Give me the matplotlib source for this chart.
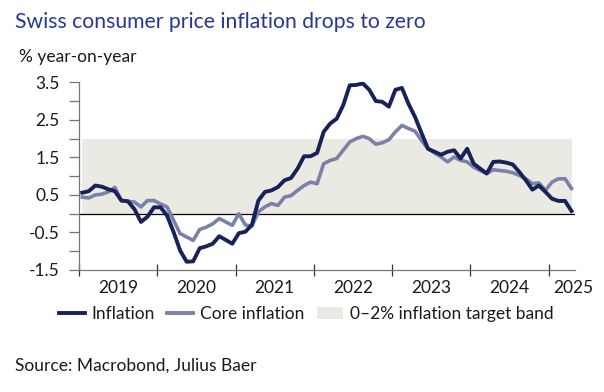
import matplotlib
matplotlib.use("Agg")
import matplotlib.pyplot as plt
from matplotlib.lines import Line2D
from matplotlib.patches import Patch

plt.rcParams['font.family'] = ['Lato', 'DejaVu Sans']

# Monthly data, Jan 2019 - Apr 2025 (% year-on-year)
inflation = [
    0.56, 0.60, 0.75, 0.72, 0.65, 0.60, 0.35, 0.33, 0.12, -0.22, -0.08, 0.17,
    0.17, -0.05, -0.49, -0.98, -1.28, -1.27, -0.92, -0.87, -0.80, -0.60, -0.70, -0.80,
    -0.52, -0.48, -0.30, 0.35, 0.58, 0.62, 0.71, 0.89, 0.95, 1.20, 1.53, 1.53,
    1.62, 2.18, 2.40, 2.53, 2.89, 3.42, 3.43, 3.47, 3.30, 3.00, 2.98, 2.85,
    3.30, 3.35, 2.93, 2.58, 2.15, 1.73, 1.65, 1.57, 1.65, 1.69, 1.47, 1.73,
    1.33, 1.20, 1.07, 1.38, 1.39, 1.36, 1.31, 1.11, 0.89, 0.64, 0.75, 0.58,
    0.40, 0.34, 0.34, 0.07,
]
core_inflation = [
    0.44, 0.42, 0.50, 0.52, 0.58, 0.70, 0.35, 0.33, 0.31, 0.18, 0.35, 0.35,
    0.26, 0.18, -0.18, -0.53, -0.62, -0.71, -0.42, -0.36, -0.27, -0.13, -0.22, -0.31,
    0.00, -0.30, -0.33, 0.05, 0.18, 0.27, 0.22, 0.44, 0.48, 0.62, 0.75, 0.84,
    0.80, 1.33, 1.42, 1.47, 1.69, 1.91, 2.00, 2.06, 2.00, 1.85, 1.89, 1.97,
    2.18, 2.35, 2.27, 2.20, 1.95, 1.73, 1.62, 1.51, 1.38, 1.51, 1.42, 1.38,
    1.24, 1.15, 1.07, 1.17, 1.15, 1.13, 1.09, 1.02, 0.93, 0.80, 0.82, 0.62,
    0.84, 0.93, 0.93, 0.67,
]
start_year = 2019
year_labels = ['2019', '2020', '2021', '2022', '2023', '2024', '2025']
y_ticks = [-1.5, -1.0, -0.5, 0.0, 0.5, 1.0, 1.5, 2.0, 2.5, 3.0, 3.5]
y_labels = ['-1.5', '', '-0.5', '', '0.5', '', '1.5', '', '2.5', '', '3.5']
band_low, band_high = 0.0, 2.0

x = [start_year + (i + 0.5) / 12 for i in range(len(inflation))]

DARK = '#17215a'
CORE = '#7b81a8'
BAND = '#ebeae2'
TITLE = '#263892'
TEXT = '#1a1a1a'
FS = 12.5

fig = plt.figure(figsize=(6.04, 3.92), dpi=100)
ax = fig.add_axes([79 / 604, 1 - 270 / 392, (575 - 79) / 604, (270 - 82.3) / 392])

ax.fill_between([x[0], x[-1]], band_low, band_high, color=BAND, lw=0, zorder=1)
ax.axhline(0, color='black', lw=0.9, zorder=2)
ax.plot(x, core_inflation, color=CORE, lw=2.6, zorder=3, solid_joinstyle='round')
ax.plot(x, inflation, color=DARK, lw=2.8, zorder=4, solid_joinstyle='round')

ax.set_xlim(2019.0, 2025.336)
ax.set_ylim(-1.5, 3.5)

for s in ['top', 'right']:
    ax.spines[s].set_visible(False)
for s in ['left', 'bottom']:
    ax.spines[s].set_color('#777777')
    ax.spines[s].set_linewidth(0.9)

ax.set_yticks(y_ticks)
ax.set_yticklabels(y_labels)
ax.tick_params(axis='y', direction='out', length=7, width=0.9, color='#777777',
               pad=7, labelsize=FS, labelcolor=TEXT)

years = list(range(2019, 2026))
ax.set_xticks(years)
ax.set_xticklabels([])
ax.tick_params(axis='x', which='major', direction='inout', length=8, width=0.9,
               color='#333333')
minor_pos = [y + 0.5 for y in years[:-1]] + [2025.32]
ax.set_xticks(minor_pos, minor=True)
ax.set_xticklabels(year_labels, minor=True)
ax.tick_params(axis='x', which='minor', length=0, pad=7, labelsize=FS,
               labelcolor=TEXT)

fig.text(15 / 604, 1 - 22 / 392, 'Swiss consumer price inflation drops to zero',
         color=TITLE, fontsize=15.2, va='center', ha='left')
fig.text(19 / 604, 1 - 57 / 392, '% year-on-year', color=TEXT, fontsize=FS,
         va='center', ha='left')
fig.text(15 / 604, 1 - 366 / 392, 'Source: Macrobond, Julius Baer', color=TEXT,
         fontsize=FS, va='center', ha='left')

handles = [
    Line2D([], [], color=DARK, lw=2.8),
    Line2D([], [], color=CORE, lw=2.8),
    Patch(facecolor=BAND, edgecolor='none'),
]
fig.legend(handles, ['Inflation', 'Core inflation', '0\u20132% inflation target band'],
           loc='center', bbox_to_anchor=(306 / 604, 1 - 314 / 392), ncol=3,
           frameon=False, fontsize=FS, handlelength=1.5, handletextpad=0.4,
           columnspacing=0.7, labelcolor=TEXT)

fig.savefig('out.png', dpi=100, facecolor='white')
